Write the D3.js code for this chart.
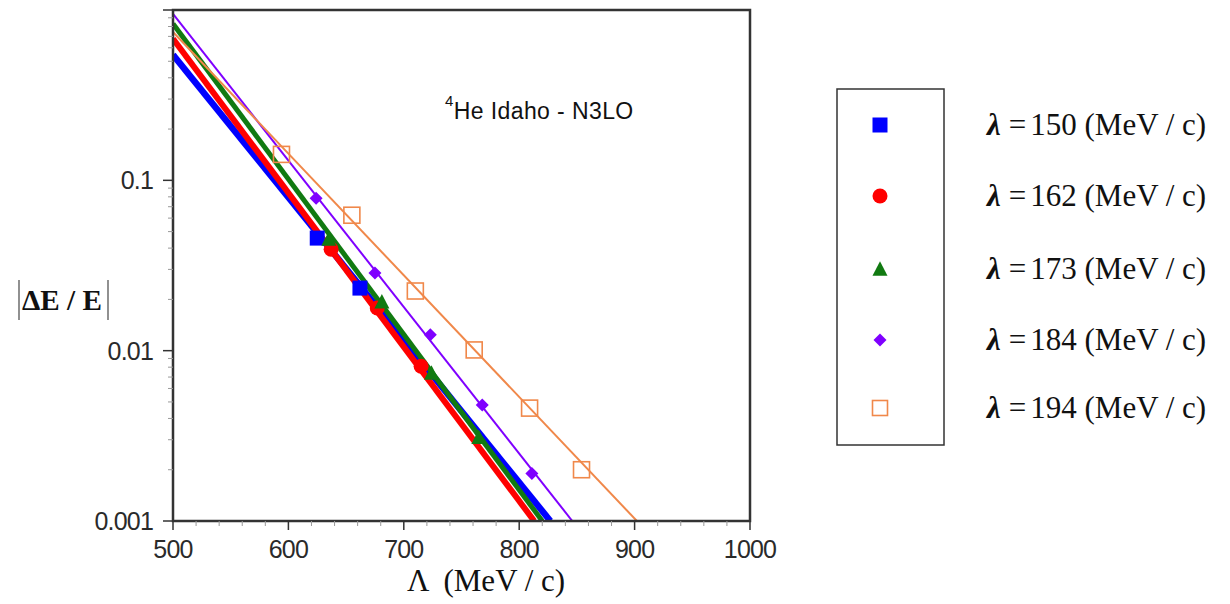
<!DOCTYPE html>
<html>
<head>
<meta charset="utf-8">
<script src="https://cdn.jsdelivr.net/npm/d3@7"></script>
<style>
  html, body { margin: 0; padding: 0; background: #fff; }
  svg { display: block; }
</style>
</head>
<body>
<svg id="chart" width="1230" height="604"></svg>
<script>
// ---------- data ----------
const seriesNames = ["150", "162", "173", "184", "194"];
const seriesColors = ["#0000ff", "#ff0000", "#117a11", "#7f00ff", "#f0884a"];
const seriesSymbols = ["square", "circle", "triangle", "diamond", "openSquare"];

// Lambda (MeV/c) and |dE/E| for the computed points
const lam150 = [625, 662];
const val150 = [0.0458, 0.0233];
const lam162 = [637, 677, 715];
const val162 = [0.0394, 0.0178, 0.0081];
const lam173 = [635, 681, 724, 765];
const val173 = [0.0452, 0.0194, 0.0074, 0.0031];
const lam184 = [624, 675, 723, 768, 811];
const val184 = [0.0786, 0.0286, 0.0124, 0.0048, 0.0019];
const lam194 = [594, 655, 710, 761, 809, 854];
const val194 = [0.142, 0.0624, 0.0224, 0.0101, 0.0046, 0.0020];

// fitted straight lines (in log scale): start [Lambda, value], end [Lambda, value]
const fitStartLam = [500, 500, 500, 500, 500];
const fitStartVal = [0.546, 0.677, 0.83, 0.948, 0.743];
const fitEndLam = [827, 813, 820, 846, 902];
const fitEndVal = [0.001, 0.001, 0.001, 0.001, 0.001];

const xTicks = [500, 600, 700, 800, 900, 1000];
const yTicks = [0.1, 0.01, 0.001];
const yTickLabels = ["0.1", "0.01", "0.001"];

const seriesLam = [lam150, lam162, lam173, lam184, lam194];
const seriesVal = [val150, val162, val173, val184, val194];

// ---------- layout ----------
const svg = d3.select("#chart");
const pLeft = 173, pTop = 10, pRight = 750, pBottom = 521;

const x = d3.scaleLinear().domain([500, 1000]).range([pLeft, pRight]);
const y = d3.scaleLog().domain([0.001, 1]).range([pBottom, pTop]);

const lineWidths = [6.5, 6, 5, 2, 2];

// clip
svg.append("defs").append("clipPath").attr("id", "plotclip")
  .append("rect").attr("x", pLeft).attr("y", pTop).attr("width", pRight - pLeft).attr("height", pBottom - pTop);

const plot = svg.append("g").attr("clip-path", "url(#plotclip)");

const line = d3.line().x(d => x(d[0])).y(d => y(d[1]));

seriesNames.forEach((n, i) => {
  plot.append("path")
    .datum([[fitStartLam[i], fitStartVal[i]], [fitEndLam[i], fitEndVal[i]]])
    .attr("d", line)
    .attr("fill", "none")
    .attr("stroke", seriesColors[i])
    .attr("stroke-width", lineWidths[i]);
});

function drawSymbol(g, type, color, cx, cy, s) {
  if (type === "square") {
    g.append("rect").attr("x", cx - s/2).attr("y", cy - s/2).attr("width", s).attr("height", s).attr("fill", color);
  } else if (type === "circle") {
    g.append("circle").attr("cx", cx).attr("cy", cy).attr("r", s/2).attr("fill", color);
  } else if (type === "triangle") {
    const h = s * 0.9;
    g.append("path").attr("d", `M${cx},${cy - h/2 - 1}L${cx + s/2},${cy + h/2}L${cx - s/2},${cy + h/2}Z`).attr("fill", color);
  } else if (type === "diamond") {
    const r = s / 2;
    g.append("path").attr("d", `M${cx},${cy - r}L${cx + r},${cy}L${cx},${cy + r}L${cx - r},${cy}Z`).attr("fill", color);
  } else if (type === "openSquare") {
    g.append("rect").attr("x", cx - s/2).attr("y", cy - s/2).attr("width", s).attr("height", s)
      .attr("fill", "none").attr("stroke", color).attr("stroke-width", 1.6);
  }
}

const symSizes = [15, 15, 15, 13, 16];
const pts = svg.append("g");
seriesNames.forEach((n, i) => {
  seriesLam[i].forEach((l, j) => {
    drawSymbol(pts, seriesSymbols[i], seriesColors[i], x(l), y(seriesVal[i][j]), symSizes[i]);
  });
});

// frame
svg.append("rect").attr("x", pLeft).attr("y", pTop).attr("width", pRight - pLeft).attr("height", pBottom - pTop)
  .attr("fill", "none").attr("stroke", "#333").attr("stroke-width", 2.5);

// x axis
const xMinor = d3.range(500, 1001, 20);
svg.append("g").selectAll("line").data(xMinor).enter().append("line")
  .attr("x1", d => x(d)).attr("x2", d => x(d))
  .attr("y1", pBottom).attr("y2", d => pBottom + (d % 100 === 0 ? 9 : 5))
  .attr("stroke", d => d % 100 === 0 ? "#333" : "#999").attr("stroke-width", d => d % 100 === 0 ? 1.5 : 1);
svg.append("g").selectAll("text").data(xTicks).enter().append("text")
  .attr("x", d => x(d)).attr("y", pBottom + 37)
  .attr("text-anchor", "middle")
  .attr("font-family", "Liberation Sans, Arial, sans-serif").attr("font-size", 25).attr("fill", "#2a2a2a")
  .attr("letter-spacing", -0.8)
  .text(d => d);

// y axis
const yMinor = [];
[0.001, 0.01, 0.1].forEach(b => { for (let k = 1; k <= 9; k++) yMinor.push(b * k); });
yMinor.push(1);
svg.append("g").selectAll("line").data(yMinor).enter().append("line")
  .attr("x1", pLeft).attr("x2", (d, i) => pLeft - (i % 9 === 0 ? 10 : 5))
  .attr("y1", d => y(d)).attr("y2", d => y(d))
  .attr("stroke", (d, i) => i % 9 === 0 ? "#333" : "#999").attr("stroke-width", (d, i) => i % 9 === 0 ? 1.5 : 1);
svg.append("g").selectAll("text").data(yTicks).enter().append("text")
  .attr("x", pLeft - 20).attr("y", d => y(d) + 9)
  .attr("text-anchor", "end")
  .attr("font-family", "Liberation Sans, Arial, sans-serif").attr("font-size", 25).attr("fill", "#2a2a2a")
  .attr("letter-spacing", -0.8)
  .text((d, i) => yTickLabels[i]);

// axis titles
const xt = svg.append("text").attr("x", 407).attr("y", 591)
  .attr("font-family", "Liberation Serif, Times New Roman, serif").attr("font-size", 31).attr("fill", "#111");
xt.append("tspan").text("Λ");
xt.append("tspan").attr("dx", 14).text("(MeV / c)");

const yt = svg.append("g");
yt.append("text").attr("x", 62).attr("y", 310).attr("text-anchor", "middle")
  .attr("font-family", "Liberation Serif, Times New Roman, serif").attr("font-size", 30).attr("font-weight", "bold").attr("fill", "#111")
  .attr("textLength", 80).attr("lengthAdjust", "spacingAndGlyphs")
  .text("ΔE / E");
yt.append("line").attr("x1", 19).attr("x2", 19).attr("y1", 280).attr("y2", 320).attr("stroke", "#555").attr("stroke-width", 1.3);
yt.append("line").attr("x1", 108).attr("x2", 108).attr("y1", 280).attr("y2", 320).attr("stroke", "#555").attr("stroke-width", 1.3);

// annotation
const ann = svg.append("text").attr("x", 445).attr("y", 119)
  .attr("font-family", "Liberation Sans, Arial, sans-serif").attr("font-size", 23).attr("fill", "#111")
  .attr("letter-spacing", 0.4);
ann.append("tspan").attr("font-size", 15).attr("dy", -13).text("4");
ann.append("tspan").attr("dy", 13).text("He Idaho - N3LO");

// legend
svg.append("rect").attr("x", 837).attr("y", 89).attr("width", 107).attr("height", 356)
  .attr("fill", "none").attr("stroke", "#333").attr("stroke-width", 1.5);
const legY = [125, 196, 269, 340, 408];
seriesNames.forEach((n, i) => {
  drawSymbol(svg, seriesSymbols[i], seriesColors[i], 880, legY[i], i === 3 ? 13 : 15);
  const t = svg.append("text").attr("x", 987).attr("y", legY[i] + 10)
    .attr("font-family", "Liberation Serif, Times New Roman, serif").attr("font-size", 31).attr("fill", "#111");
  t.append("tspan").attr("font-style", "italic").attr("font-weight", "bold").text("λ");
  t.append("tspan").attr("dx", 8).text("=");
  t.append("tspan").attr("dx", 4).text(n + " (MeV / c)");
});
</script>
</body>
</html>
